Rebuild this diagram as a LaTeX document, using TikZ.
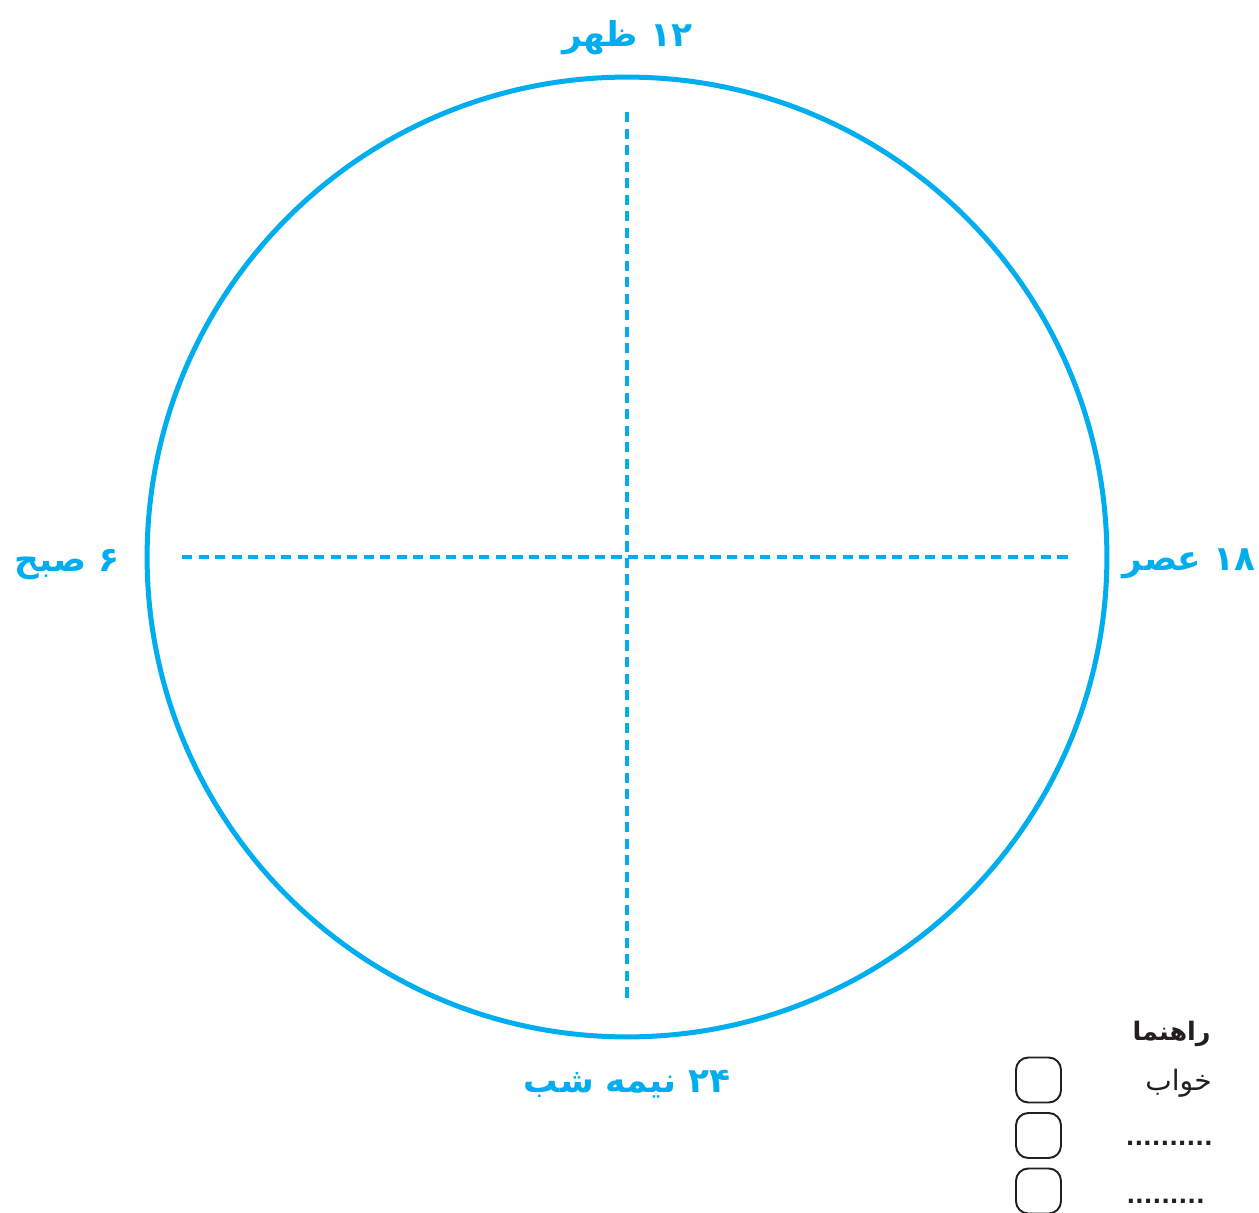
\documentclass[tikz,border=0pt]{standalone}
\usepackage{fontspec}
\newfontfamily\farsi[Script=Arabic]{DejaVu Sans}
\TeXXeTstate=1
\definecolor{clockblue}{HTML}{00AEEF}
\definecolor{inkgray}{HTML}{231F20}
\begin{document}
\begin{tikzpicture}[x=0.02cm,y=-0.02cm,line cap=butt,
    hourlabel/.style={text=clockblue,inner sep=0pt,font=\farsi\bfseries\fontsize{19.5}{22}\selectfont},
    axisline/.style={clockblue,line width=1.8pt,dash pattern=on 5.8pt off 3.6pt},
    keybox/.style={draw=inkgray,line width=1.1pt,rounded corners=7pt,minimum width=0.9cm,minimum height=0.9cm,inner sep=0pt},
    keytext/.style={text=inkgray,inner sep=0pt,font=\farsi\fontsize{16}{18}\selectfont},
    keydots/.style={keytext,font=\farsi\bfseries\fontsize{13}{16}\selectfont}]
  \useasboundingbox (0,0) rectangle (1259,1213);
  % clock face
  \coordinate (c) at (627,557);
  \draw[clockblue,line width=2.85pt] (c) circle[radius=9.6cm];
  \coordinate (top) at (627,112);
  \coordinate (bottom) at (627,1002);
  \coordinate (left) at (182,557);
  \coordinate (right) at (1072,557);
  \draw[axisline] (top) -- (bottom);
  \draw[axisline] (left) -- (right);
  % hours
  \node[hourlabel,anchor=base] (noon) at (627,47) {\beginR ۱۲ ظهر\endR};
  \node[hourlabel,anchor=base] (morning) at (67,571) {\beginR ۶ صبح\endR};
  \node[hourlabel,anchor=base] (evening) at (1189,570) {\beginR ۱۸ عصر\endR};
  \node[hourlabel,anchor=base] (midnight) at (627,1092) {\beginR ۲۴ نیمه شب\endR};
  % legend
  \node[keytext,font=\farsi\bfseries\fontsize{14.5}{17}\selectfont,anchor=base east] (key) at (1211,1040) {\beginR راهنما\endR};
  \node[keytext,anchor=base east] (sleep) at (1212,1090) {\beginR خواب\endR};
  \node[keydots,anchor=base east] (blank1) at (1213,1145) {..........};
  \node[keydots,anchor=base east] (blank2) at (1205,1203) {.........};
  \node[keybox] (box1) at (1038.5,1080) {};
  \node[keybox] (box2) at (1038.5,1135.5) {};
  \node[keybox] (box3) at (1038.5,1191) {};
\end{tikzpicture}
\end{document}
